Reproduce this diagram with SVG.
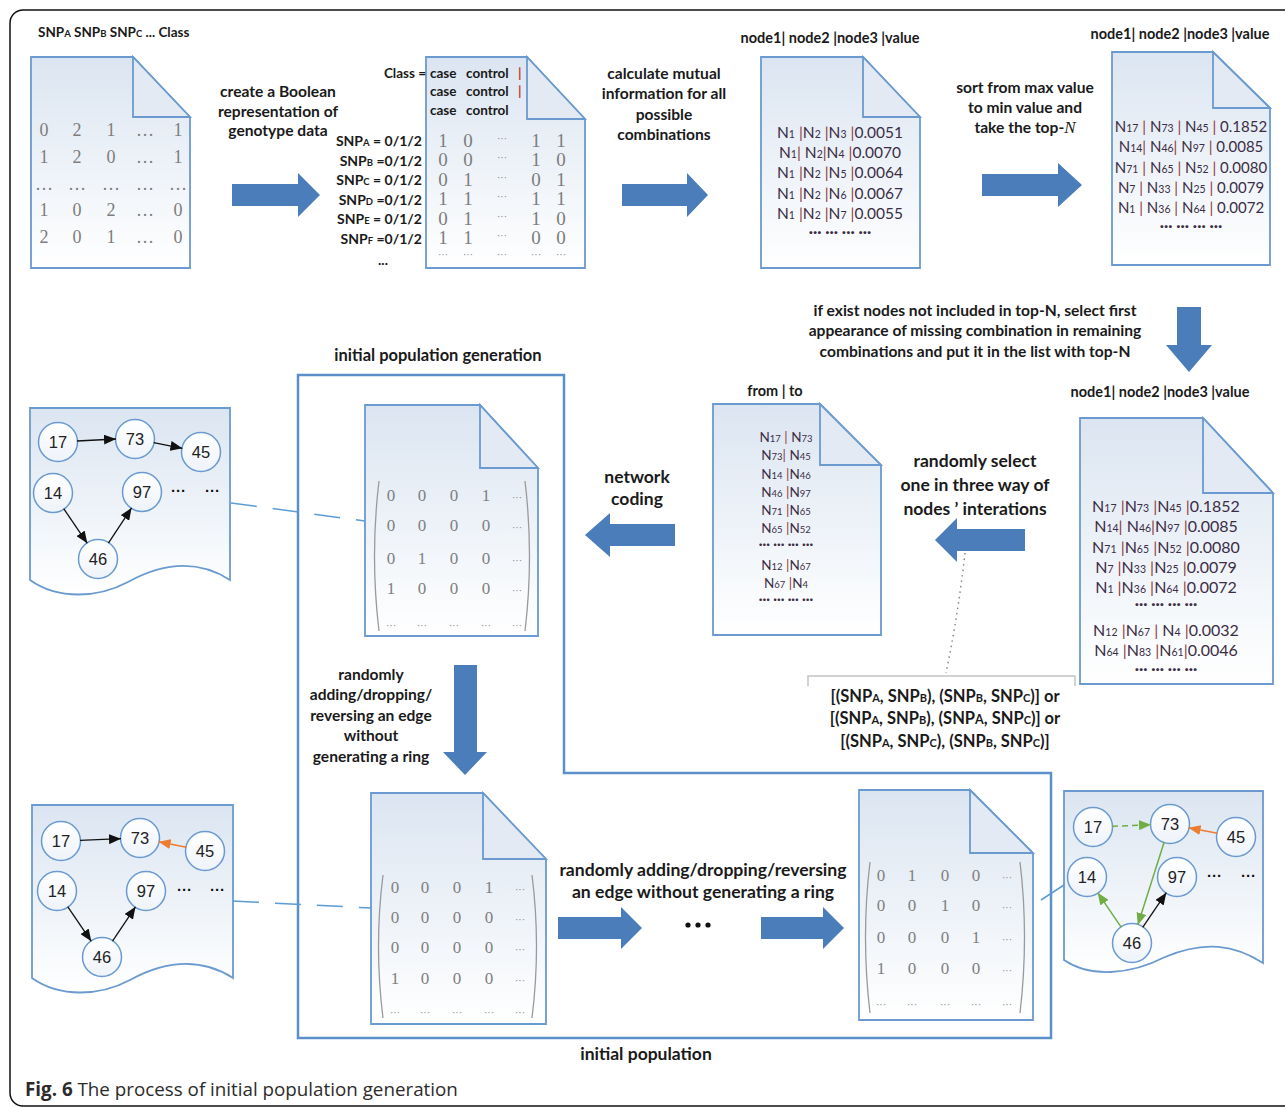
<svg xmlns="http://www.w3.org/2000/svg" width="1285" height="1107" viewBox="0 0 1285 1107">
<defs>
<linearGradient id="dg" x1="0" y1="0" x2="0" y2="1"><stop offset="0" stop-color="#dbe5f1"/><stop offset="1" stop-color="#ffffff"/></linearGradient>
<linearGradient id="cg" x1="0" y1="0" x2="0" y2="1"><stop offset="0" stop-color="#ffffff"/><stop offset="1" stop-color="#eef3fa"/></linearGradient>
<marker id="mk" viewBox="0 0 12 10" refX="12" refY="5" markerWidth="12" markerHeight="10" markerUnits="userSpaceOnUse" orient="auto"><path d="M0,0 L12,5 L0,10 Z" fill="#111"/></marker>
<marker id="mo" viewBox="0 0 12 10" refX="12" refY="5" markerWidth="12" markerHeight="10" markerUnits="userSpaceOnUse" orient="auto"><path d="M0,0 L12,5 L0,10 Z" fill="#ed7d31"/></marker>
<marker id="mg" viewBox="0 0 12 10" refX="12" refY="5" markerWidth="12" markerHeight="10" markerUnits="userSpaceOnUse" orient="auto"><path d="M0,0 L12,5 L0,10 Z" fill="#70ad47"/></marker>
<style>
.lb{font-family:Lato,'Liberation Sans',sans-serif;font-weight:700;font-size:15.6px;fill:#1a1a1a;text-anchor:middle}
.hd{font-family:Lato,'Liberation Sans',sans-serif;font-weight:700;font-size:14.5px;fill:#1a1a1a;text-anchor:middle}
.hs{font-size:9.5px}
.r{font-family:Lato,'Liberation Sans',sans-serif;font-size:15.5px;fill:#3b2d45;text-anchor:middle}
.r2{font-family:Lato,'Liberation Sans',sans-serif;font-size:13.5px;fill:#3b2d45;text-anchor:middle}
.s{font-size:10.5px}
.p{fill:#8c3a3a}
.dg{font-family:'Liberation Serif',serif;font-size:18px;fill:#7d7d7d;text-anchor:middle}
.dm{font-family:'Liberation Serif',serif;font-size:17px;fill:#808080;text-anchor:middle}
.dt{font-family:'Liberation Sans',sans-serif;font-size:10px;fill:#8a8a8a;text-anchor:middle}
.doc{fill:url(#dg);stroke:#6a9ad0;stroke-width:1.8}
.fold{fill:#e3eaf4;stroke:#6a9ad0;stroke-width:1.8}
.par{fill:none;stroke:#9a9a9a;stroke-width:1.3}
.nd circle{fill:url(#cg);stroke:#6a9ad0;stroke-width:1.5}
.nt{font-family:'Liberation Sans',sans-serif;font-size:16.5px;fill:#222;text-anchor:middle}
.ar{fill:#4a7dba}
.e{stroke:#111;stroke-width:1.3;fill:none;marker-end:url(#mk)}
.eo{stroke:#ed7d31;stroke-width:1.5;fill:none;marker-end:url(#mo)}
.eg{stroke:#70ad47;stroke-width:1.5;fill:none;marker-end:url(#mg)}
.dash{stroke:#5b9bd5;stroke-width:1.5;fill:none;stroke-dasharray:26 16}
.gd{font-family:'Liberation Sans',sans-serif;font-weight:700;font-size:15px;fill:#111}
</style>
</defs>
<rect x="10" y="10" width="1295" height="1096" rx="13" fill="#fff" stroke="#111" stroke-width="1.5"/>

<!-- frame -->
<g id="frame"><path d="M298,375 H564 V773 H1051 V1038 H298 Z" fill="none" stroke="#5b8fc9" stroke-width="2.5"/></g>

<!-- doc1 -->
<g id="doc-genotype">
<text x="38" y="37" class="hd" style="text-anchor:start;font-size:13.5px">SNP<tspan class="hs">A</tspan> SNP<tspan class="hs">B</tspan> SNP<tspan class="hs">C</tspan> ... Class</text>
<path class="doc" d="M31,57 H133 L190,117 V268 H31 Z"/><path class="fold" d="M133,57 V117 H190 Z"/>
<text class="dg" y="136"><tspan x="44">0</tspan><tspan x="77">2</tspan><tspan x="111">1</tspan><tspan x="145">…</tspan><tspan x="178">1</tspan></text>
<text class="dg" y="163"><tspan x="44">1</tspan><tspan x="77">2</tspan><tspan x="111">0</tspan><tspan x="145">…</tspan><tspan x="178">1</tspan></text>
<text class="dg" y="190"><tspan x="44">…</tspan><tspan x="77">…</tspan><tspan x="111">…</tspan><tspan x="145">…</tspan><tspan x="178">…</tspan></text>
<text class="dg" y="216"><tspan x="44">1</tspan><tspan x="77">0</tspan><tspan x="111">2</tspan><tspan x="145">…</tspan><tspan x="178">0</tspan></text>
<text class="dg" y="243"><tspan x="44">2</tspan><tspan x="77">0</tspan><tspan x="111">1</tspan><tspan x="145">…</tspan><tspan x="178">0</tspan></text>
</g>

<g id="lbl-boolean"><text class="lb" x="278" y="97">create a Boolean</text><text class="lb" x="278" y="117">representation of</text><text class="lb" x="278" y="136">genotype data</text></g>

<!-- doc2 -->
<g id="doc-boolean">
<path class="doc" d="M426,57 H527 L585,119 V268 H426 Z"/><path class="fold" d="M527,57 V119 H585 Z"/>
<g class="hd" style="font-size:13.5px;text-anchor:start">
<text x="426" y="78" style="text-anchor:end">Class =</text>
<text x="430" y="78">case</text><text x="466" y="78">control</text><text x="518" y="78" fill="#c0392b">|</text>
<text x="430" y="96">case</text><text x="466" y="96">control</text><text x="518" y="96" fill="#c0392b">|</text>
<text x="430" y="115">case</text><text x="466" y="115">control</text>
</g>
<g class="hd" style="font-size:14px;text-anchor:end">
<text x="422" y="146">SNP<tspan class="hs">A</tspan>  = 0/1/2</text>
<text x="422" y="166">SNP<tspan class="hs">B</tspan>  =0/1/2</text>
<text x="422" y="185">SNP<tspan class="hs">C</tspan> = 0/1/2</text>
<text x="422" y="205">SNP<tspan class="hs">D</tspan> =0/1/2</text>
<text x="422" y="224">SNP<tspan class="hs">E</tspan> = 0/1/2</text>
<text x="422" y="244">SNP<tspan class="hs">F</tspan> =0/1/2</text>
<text x="388" y="265">...</text>
</g>
<g class="dg" style="font-size:19px">
<text y="147"><tspan x="443">1</tspan><tspan x="468">0</tspan><tspan x="536">1</tspan><tspan x="561">1</tspan></text>
<text y="166"><tspan x="443">0</tspan><tspan x="468">0</tspan><tspan x="536">1</tspan><tspan x="561">0</tspan></text>
<text y="186"><tspan x="443">0</tspan><tspan x="468">1</tspan><tspan x="536">0</tspan><tspan x="561">1</tspan></text>
<text y="205"><tspan x="443">1</tspan><tspan x="468">1</tspan><tspan x="536">1</tspan><tspan x="561">1</tspan></text>
<text y="225"><tspan x="443">0</tspan><tspan x="468">1</tspan><tspan x="536">1</tspan><tspan x="561">0</tspan></text>
<text y="244"><tspan x="443">1</tspan><tspan x="468">1</tspan><tspan x="536">0</tspan><tspan x="561">0</tspan></text>
</g>
<g class="dt">
<text x="502" y="142">···</text><text x="502" y="161">···</text><text x="502" y="181">···</text><text x="502" y="200">···</text><text x="502" y="220">···</text><text x="502" y="239">···</text>
<text y="258"><tspan x="443">···</tspan><tspan x="468">···</tspan><tspan x="502">···</tspan><tspan x="536">···</tspan><tspan x="561">···</tspan></text>
</g>
</g>

<g id="lbl-mutual"><text class="lb" x="664" y="79">calculate mutual</text><text class="lb" x="664" y="99">information for all</text><text class="lb" x="664" y="120">possible</text><text class="lb" x="664" y="140">combinations</text></g>

<!-- doc3 -->
<g id="doc-mi">
<text class="hd" x="830" y="43">node1| node2 |node3 |value</text>
<path class="doc" d="M761,57 H863 L920,117 V268 H761 Z"/><path class="fold" d="M863,57 V117 H920 Z"/>
<text class="r" x="840" y="138">N<tspan class="s">1</tspan> <tspan class="p">|</tspan>N<tspan class="s">2</tspan> <tspan class="p">|</tspan>N<tspan class="s">3</tspan> <tspan class="p">|</tspan>0.0051</text>
<text class="r" x="840" y="158">N<tspan class="s">1</tspan><tspan class="p">|</tspan> N<tspan class="s">2</tspan><tspan class="p">|</tspan>N<tspan class="s">4</tspan> <tspan class="p">|</tspan>0.0070</text>
<text class="r" x="840" y="178">N<tspan class="s">1</tspan> <tspan class="p">|</tspan>N<tspan class="s">2</tspan> <tspan class="p">|</tspan>N<tspan class="s">5</tspan> <tspan class="p">|</tspan>0.0064</text>
<text class="r" x="840" y="199">N<tspan class="s">1</tspan> <tspan class="p">|</tspan>N<tspan class="s">2</tspan> <tspan class="p">|</tspan>N<tspan class="s">6</tspan> <tspan class="p">|</tspan>0.0067</text>
<text class="r" x="840" y="219">N<tspan class="s">1</tspan> <tspan class="p">|</tspan>N<tspan class="s">2</tspan> <tspan class="p">|</tspan>N<tspan class="s">7</tspan> <tspan class="p">|</tspan>0.0055</text>
<text class="r" x="840" y="237" style="font-weight:700">··· ··· ··· ···</text>
</g>

<g id="lbl-sort"><text class="lb" x="1025" y="93">sort from max value</text><text class="lb" x="1025" y="113">to min value and</text><text class="lb" x="1025" y="133">take the top-<tspan style="font-family:'Liberation Serif',serif;font-style:italic;font-weight:400;font-size:17px">N</tspan></text></g>

<!-- doc4 -->
<g id="doc-topn">
<text class="hd" x="1180" y="39">node1| node2 |node3 |value</text>
<path class="doc" d="M1112,52 H1213 L1270,108 V265 H1112 Z"/><path class="fold" d="M1213,52 V108 H1270 Z"/>
<text class="r" x="1191" y="132" style="font-size:15px">N<tspan class="s">17</tspan> <tspan class="p">|</tspan> N<tspan class="s">73</tspan> <tspan class="p">|</tspan> N<tspan class="s">45</tspan> <tspan class="p">|</tspan> 0.1852</text>
<text class="r" x="1191" y="152" style="font-size:15px">N<tspan class="s">14</tspan><tspan class="p">|</tspan>  N<tspan class="s">46</tspan><tspan class="p">|</tspan> N<tspan class="s">97</tspan> <tspan class="p">|</tspan> 0.0085</text>
<text class="r" x="1191" y="173" style="font-size:15px">N<tspan class="s">71</tspan> <tspan class="p">|</tspan> N<tspan class="s">65</tspan> <tspan class="p">|</tspan> N<tspan class="s">52</tspan> <tspan class="p">|</tspan> 0.0080</text>
<text class="r" x="1191" y="193" style="font-size:15px">N<tspan class="s">7</tspan> <tspan class="p">|</tspan> N<tspan class="s">33</tspan> <tspan class="p">|</tspan> N<tspan class="s">25</tspan> <tspan class="p">|</tspan> 0.0079</text>
<text class="r" x="1191" y="213" style="font-size:15px">N<tspan class="s">1</tspan> <tspan class="p">|</tspan> N<tspan class="s">36</tspan> <tspan class="p">|</tspan> N<tspan class="s">64</tspan> <tspan class="p">|</tspan> 0.0072</text>
<text class="r" x="1191" y="231" style="font-weight:700">··· ··· ··· ···</text>
</g>

<g id="lbl-missing"><text class="lb" x="975" y="316">if exist nodes not included in top-N, select first</text><text class="lb" x="975" y="336">appearance of missing combination in remaining</text><text class="lb" x="975" y="357">combinations and put it in the list with top-N</text></g>

<!-- doc5 -->
<g id="doc-topn-full">
<text class="hd" x="1160" y="397">node1| node2 |node3 |value</text>
<path class="doc" d="M1080,418 H1203 L1273,493 V684 H1080 Z"/><path class="fold" d="M1203,418 V493 H1273 Z"/>
<text class="r" x="1166" y="512" style="font-size:16px">N<tspan class="s">17</tspan> <tspan class="p">|</tspan>N<tspan class="s">73</tspan> <tspan class="p">|</tspan>N<tspan class="s">45</tspan> <tspan class="p">|</tspan>0.1852</text>
<text class="r" x="1166" y="532" style="font-size:16px">N<tspan class="s">14</tspan><tspan class="p">|</tspan> N<tspan class="s">46</tspan><tspan class="p">|</tspan>N<tspan class="s">97</tspan> <tspan class="p">|</tspan>0.0085</text>
<text class="r" x="1166" y="553" style="font-size:16px">N<tspan class="s">71</tspan> <tspan class="p">|</tspan>N<tspan class="s">65</tspan> <tspan class="p">|</tspan>N<tspan class="s">52</tspan> <tspan class="p">|</tspan>0.0080</text>
<text class="r" x="1166" y="573" style="font-size:16px">N<tspan class="s">7</tspan> <tspan class="p">|</tspan>N<tspan class="s">33</tspan> <tspan class="p">|</tspan>N<tspan class="s">25</tspan> <tspan class="p">|</tspan>0.0079</text>
<text class="r" x="1166" y="593" style="font-size:16px">N<tspan class="s">1</tspan> <tspan class="p">|</tspan>N<tspan class="s">36</tspan> <tspan class="p">|</tspan>N<tspan class="s">64</tspan> <tspan class="p">|</tspan>0.0072</text>
<text class="r" x="1166" y="609" style="font-weight:700">··· ··· ··· ···</text>
<text class="r" x="1166" y="636" style="font-size:16px">N<tspan class="s">12</tspan> <tspan class="p">|</tspan>N<tspan class="s">67</tspan>  <tspan class="p">|</tspan> N<tspan class="s">4</tspan> <tspan class="p">|</tspan>0.0032</text>
<text class="r" x="1166" y="656" style="font-size:16px">N<tspan class="s">64</tspan> <tspan class="p">|</tspan>N<tspan class="s">83</tspan> <tspan class="p">|</tspan>N<tspan class="s">61</tspan><tspan class="p">|</tspan>0.0046</text>
<text class="r" x="1166" y="674" style="font-weight:700">··· ··· ··· ···</text>
</g>

<g id="lbl-select"><text class="lb" x="975" y="467" style="font-size:17.5px">randomly select</text><text class="lb" x="975" y="491" style="font-size:17.5px">one in three way of</text><text class="lb" x="975" y="515" style="font-size:17.5px">nodes ’ interations</text></g>

<g id="lbl-bracket"><text class="lb" x="945" y="702" style="font-size:16.5px">[(SNP<tspan style="font-size:11px">A</tspan>, SNP<tspan style="font-size:11px">B</tspan>), (SNP<tspan style="font-size:11px">B</tspan>, SNP<tspan style="font-size:11px">C</tspan>)] or</text><text class="lb" x="945" y="724" style="font-size:16.5px">[(SNP<tspan style="font-size:11px">A</tspan>, SNP<tspan style="font-size:11px">B</tspan>), (SNP<tspan style="font-size:12.5px">A</tspan>, SNP<tspan style="font-size:11px">C</tspan>)] or</text><text class="lb" x="945" y="747" style="font-size:16.5px">[(SNP<tspan style="font-size:11px">A</tspan>, SNP<tspan style="font-size:11px">C</tspan>), (SNP<tspan style="font-size:11px">B</tspan>, SNP<tspan style="font-size:11px">C</tspan>)]</text></g>

<!-- doc6 -->
<g id="doc-fromto">
<text class="hd" x="775" y="396">from | to</text>
<path class="doc" d="M713,404 H820 L881,465 V635 H713 Z"/><path class="fold" d="M820,404 V465 H881 Z"/>
<text class="r2" x="786" y="442">N<tspan class="s" style="font-size:9.5px">17</tspan> <tspan class="p">|</tspan>  N<tspan class="s" style="font-size:9.5px">73</tspan></text>
<text class="r2" x="786" y="460">N<tspan class="s" style="font-size:9.5px">73</tspan><tspan class="p">|</tspan> N<tspan class="s" style="font-size:9.5px">45</tspan></text>
<text class="r2" x="786" y="479">N<tspan class="s" style="font-size:9.5px">14</tspan> <tspan class="p">|</tspan>N<tspan class="s" style="font-size:9.5px">46</tspan></text>
<text class="r2" x="786" y="497">N<tspan class="s" style="font-size:9.5px">46</tspan> <tspan class="p">|</tspan>N<tspan class="s" style="font-size:9.5px">97</tspan></text>
<text class="r2" x="786" y="515">N<tspan class="s" style="font-size:9.5px">71</tspan> <tspan class="p">|</tspan>N<tspan class="s" style="font-size:9.5px">65</tspan></text>
<text class="r2" x="786" y="533">N<tspan class="s" style="font-size:9.5px">65</tspan> <tspan class="p">|</tspan>N<tspan class="s" style="font-size:9.5px">52</tspan></text>
<text class="r2" x="786" y="549" style="font-weight:700">··· ··· ··· ···</text>
<text class="r2" x="786" y="570">N<tspan class="s" style="font-size:9.5px">12</tspan> <tspan class="p">|</tspan>N<tspan class="s" style="font-size:9.5px">67</tspan></text>
<text class="r2" x="786" y="588">N<tspan class="s" style="font-size:9.5px">67</tspan> <tspan class="p">|</tspan>N<tspan class="s" style="font-size:9.5px">4</tspan></text>
<text class="r2" x="786" y="604" style="font-weight:700">··· ··· ··· ···</text>
</g>

<g id="lbl-coding"><text class="lb" x="637" y="483" style="font-size:17.5px">network</text><text class="lb" x="637" y="505" style="font-size:17.5px">coding</text></g>
<g id="lbl-ipg"><text class="lb" x="438" y="361" style="font-size:16.5px">initial population generation</text></g>
<g id="lbl-vert"><text class="lb" x="371" y="680">randomly</text><text class="lb" x="371" y="700">adding/dropping/</text><text class="lb" x="371" y="721">reversing an edge</text><text class="lb" x="371" y="741">without</text><text class="lb" x="371" y="762">generating a ring</text></g>
<g id="lbl-horiz"><text class="lb" x="703" y="876" style="font-size:17.6px">randomly adding/dropping/reversing</text><text class="lb" x="703" y="898" style="font-size:17.6px">an edge without generating a ring</text></g>
<g id="lbl-ip"><text class="lb" x="646" y="1060" style="font-size:17.5px">initial population</text></g>

<!-- matrix A -->
<g id="matrix-a">
<path class="doc" d="M365,405 H480 L538,468 V636 H365 Z"/><path class="fold" d="M480,405 V468 H538 Z"/>
<path class="par" d="M379,481 Q370,556 379,631"/><path class="par" d="M525,481 Q534,556 525,631"/>
<g class="dm">
<text y="501"><tspan x="391">0</tspan><tspan x="422">0</tspan><tspan x="454">0</tspan><tspan x="486">1</tspan></text>
<text y="531"><tspan x="391">0</tspan><tspan x="422">0</tspan><tspan x="454">0</tspan><tspan x="486">0</tspan></text>
<text y="564"><tspan x="391">0</tspan><tspan x="422">1</tspan><tspan x="454">0</tspan><tspan x="486">0</tspan></text>
<text y="594"><tspan x="391">1</tspan><tspan x="422">0</tspan><tspan x="454">0</tspan><tspan x="486">0</tspan></text>
</g>
<g class="dt"><text x="517" y="501">···</text><text x="517" y="531">···</text><text x="517" y="564">···</text><text x="517" y="594">···</text>
<text y="629"><tspan x="391">···</tspan><tspan x="422">···</tspan><tspan x="454">···</tspan><tspan x="486">···</tspan><tspan x="517">···</tspan></text></g>
</g>

<!-- matrix B -->
<g id="matrix-b">
<path class="doc" d="M371,793 H483 L546,859 V1024 H371 Z"/><path class="fold" d="M483,793 V859 H546 Z"/>
<path class="par" d="M383,875 Q374,946 383,1018"/><path class="par" d="M532,875 Q541,946 532,1018"/>
<g class="dm">
<text y="893"><tspan x="395">0</tspan><tspan x="425">0</tspan><tspan x="457">0</tspan><tspan x="489">1</tspan></text>
<text y="923"><tspan x="395">0</tspan><tspan x="425">0</tspan><tspan x="457">0</tspan><tspan x="489">0</tspan></text>
<text y="953"><tspan x="395">0</tspan><tspan x="425">0</tspan><tspan x="457">0</tspan><tspan x="489">0</tspan></text>
<text y="984"><tspan x="395">1</tspan><tspan x="425">0</tspan><tspan x="457">0</tspan><tspan x="489">0</tspan></text>
</g>
<g class="dt"><text x="520" y="893">···</text><text x="520" y="923">···</text><text x="520" y="953">···</text><text x="520" y="984">···</text>
<text y="1016"><tspan x="395">···</tspan><tspan x="425">···</tspan><tspan x="457">···</tspan><tspan x="489">···</tspan><tspan x="520">···</tspan></text></g>
</g>

<!-- matrix C -->
<g id="matrix-c">
<path class="doc" d="M859,790 H970 L1033,853 V1020 H859 Z"/><path class="fold" d="M970,790 V853 H1033 Z"/>
<path class="par" d="M870,862 Q861,937 870,1013"/><path class="par" d="M1020,862 Q1029,937 1020,1013"/>
<g class="dm">
<text y="881"><tspan x="881">0</tspan><tspan x="912">1</tspan><tspan x="945">0</tspan><tspan x="976">0</tspan></text>
<text y="911"><tspan x="881">0</tspan><tspan x="912">0</tspan><tspan x="945">1</tspan><tspan x="976">0</tspan></text>
<text y="943"><tspan x="881">0</tspan><tspan x="912">0</tspan><tspan x="945">0</tspan><tspan x="976">1</tspan></text>
<text y="974"><tspan x="881">1</tspan><tspan x="912">0</tspan><tspan x="945">0</tspan><tspan x="976">0</tspan></text>
</g>
<g class="dt"><text x="1007" y="881">···</text><text x="1007" y="911">···</text><text x="1007" y="943">···</text><text x="1007" y="974">···</text>
<text y="1008"><tspan x="881">···</tspan><tspan x="912">···</tspan><tspan x="945">···</tspan><tspan x="976">···</tspan><tspan x="1007">···</tspan></text></g>
</g>

<!-- graph 1 -->
<g id="graph-1">
<path class="doc" d="M30,408 H230 V580 C202,562 168,560 128,582 C98,598 58,600 30,580 Z"/>
<g id="g1-n17" class="nd"><circle cx="58" cy="442" r="19.5"/><text class="nt" x="58" y="448">17</text></g>
<g id="g1-n73" class="nd"><circle cx="135" cy="439" r="19.5"/><text class="nt" x="135" y="445">73</text></g>
<g id="g1-n45" class="nd"><circle cx="201" cy="452" r="19.5"/><text class="nt" x="201" y="458">45</text></g>
<g id="g1-n14" class="nd"><circle cx="53" cy="493" r="19.5"/><text class="nt" x="53" y="499">14</text></g>
<g id="g1-n97" class="nd"><circle cx="142" cy="492" r="19.5"/><text class="nt" x="142" y="498">97</text></g>
<g id="g1-n46" class="nd"><circle cx="98" cy="559" r="19.5"/><text class="nt" x="98" y="565">46</text></g>
<text class="gd" y="496"><tspan x="171">···</tspan><tspan x="205">···</tspan></text>
</g>

<!-- graph 2 -->
<g id="graph-2">
<path class="doc" d="M32,805 H233 V978 C205,960 170,958 130,980 C100,996 60,998 32,978 Z"/>
<g id="g2-n17" class="nd"><circle cx="61" cy="841" r="19.5"/><text class="nt" x="61" y="847">17</text></g>
<g id="g2-n73" class="nd"><circle cx="140" cy="838" r="19.5"/><text class="nt" x="140" y="844">73</text></g>
<g id="g2-n45" class="nd"><circle cx="205" cy="851" r="19.5"/><text class="nt" x="205" y="857">45</text></g>
<g id="g2-n14" class="nd"><circle cx="57" cy="891" r="19.5"/><text class="nt" x="57" y="897">14</text></g>
<g id="g2-n97" class="nd"><circle cx="146" cy="891" r="19.5"/><text class="nt" x="146" y="897">97</text></g>
<g id="g2-n46" class="nd"><circle cx="102" cy="957" r="19.5"/><text class="nt" x="102" y="963">46</text></g>
<text class="gd" y="895"><tspan x="177">···</tspan><tspan x="210">···</tspan></text>
</g>

<!-- graph 3 -->
<g id="graph-3">
<path class="doc" d="M1064,791 H1263 V963 C1235,945 1205,940 1165,957 C1130,975 1090,978 1064,960 Z"/>
<g id="g3-n17" class="nd"><circle cx="1093" cy="827" r="19.5"/><text class="nt" x="1093" y="833">17</text></g>
<g id="g3-n73" class="nd"><circle cx="1170" cy="824" r="19.5"/><text class="nt" x="1170" y="830">73</text></g>
<g id="g3-n45" class="nd"><circle cx="1236" cy="837" r="19.5"/><text class="nt" x="1236" y="843">45</text></g>
<g id="g3-n14" class="nd"><circle cx="1087" cy="877" r="19.5"/><text class="nt" x="1087" y="883">14</text></g>
<g id="g3-n97" class="nd"><circle cx="1177" cy="877" r="19.5"/><text class="nt" x="1177" y="883">97</text></g>
<g id="g3-n46" class="nd"><circle cx="1132" cy="943" r="19.5"/><text class="nt" x="1132" y="949">46</text></g>
<text class="gd" y="881"><tspan x="1207">···</tspan><tspan x="1241">···</tspan></text>
</g>

<!-- connectors -->
<g id="connectors">
<path class="ar" d="M232,184 H298 V173 L320,195 L298,217 V206 H232 Z"/>
<path class="ar" d="M622,184 H687 V173 L708,195 L687,217 V206 H622 Z"/>
<path class="ar" d="M982,174 H1058 V163 L1082,185 L1058,207 V196 H982 Z"/>
<path class="ar" d="M1177,307 H1201 V345 H1212 L1189,372 L1166,345 H1177 Z"/>
<path class="ar" d="M1025,529 H957 V518 L935,540 L957,562 V551 H1025 Z"/>
<path class="ar" d="M675,524 H610 V513 L585,535 L610,557 V546 H675 Z"/>
<path class="ar" d="M454,665 H477 V752 H487 L465,775 L443,752 H454 Z"/>
<path class="ar" d="M558,917 H621 V907 L642,928 L621,949 V939 H558 Z"/>
<path class="ar" d="M761,917 H823 V907 L844,928 L823,949 V939 H761 Z"/>
<g fill="#111"><circle cx="688" cy="925" r="2.6"/><circle cx="698" cy="925" r="2.6"/><circle cx="708" cy="925" r="2.6"/></g>
<path d="M965,553 Q958,615 946,673" fill="none" stroke="#888" stroke-width="1.5" stroke-dasharray="1.5 4"/>
<path d="M808,686 V676 H1075 V686" fill="none" stroke="#c4c4c4" stroke-width="1.5"/>
<path class="dash" d="M231,503 L365,521"/>
<path class="dash" d="M233,901 L371,908"/>
<path d="M1041,900 L1064,885" fill="none" stroke="#5b9bd5" stroke-width="1.5"/>
<path class="e" d="M77,441 L116,439"/>
<path class="e" d="M153.6,442.7 L182.4,448.3"/>
<path class="e" d="M63.7,508.7 L87.3,543.3"/>
<path class="e" d="M108.4,543.1 L131.6,507.9"/>
<path class="e" d="M80,840.3 L121,838.7"/>
<path class="eo" d="M186.4,847.3 L158.6,841.7"/>
<path class="e" d="M67.7,906.7 L91.3,941.3"/>
<path class="e" d="M112.5,941.2 L135.5,906.8"/>
<path class="eg" d="M1112,826.3 L1151,824.7" style="stroke-dasharray:6 4"/>
<path class="eo" d="M1217.4,833.3 L1188.6,827.7"/>
<path class="eg" d="M1164.2,842.1 L1137.8,924.9"/>
<path class="eg" d="M1121.3,927.3 L1097.7,892.7"/>
<path class="e" d="M1142.7,927.3 L1166.3,892.7"/>
</g>

<g id="caption"><text x="25" y="1096" style="font-family:'Open Sans','Liberation Sans',sans-serif;font-size:18.8px;fill:#2b2b2b"><tspan style="font-weight:700">Fig. 6</tspan> The process of initial population generation</text></g>
</svg>
